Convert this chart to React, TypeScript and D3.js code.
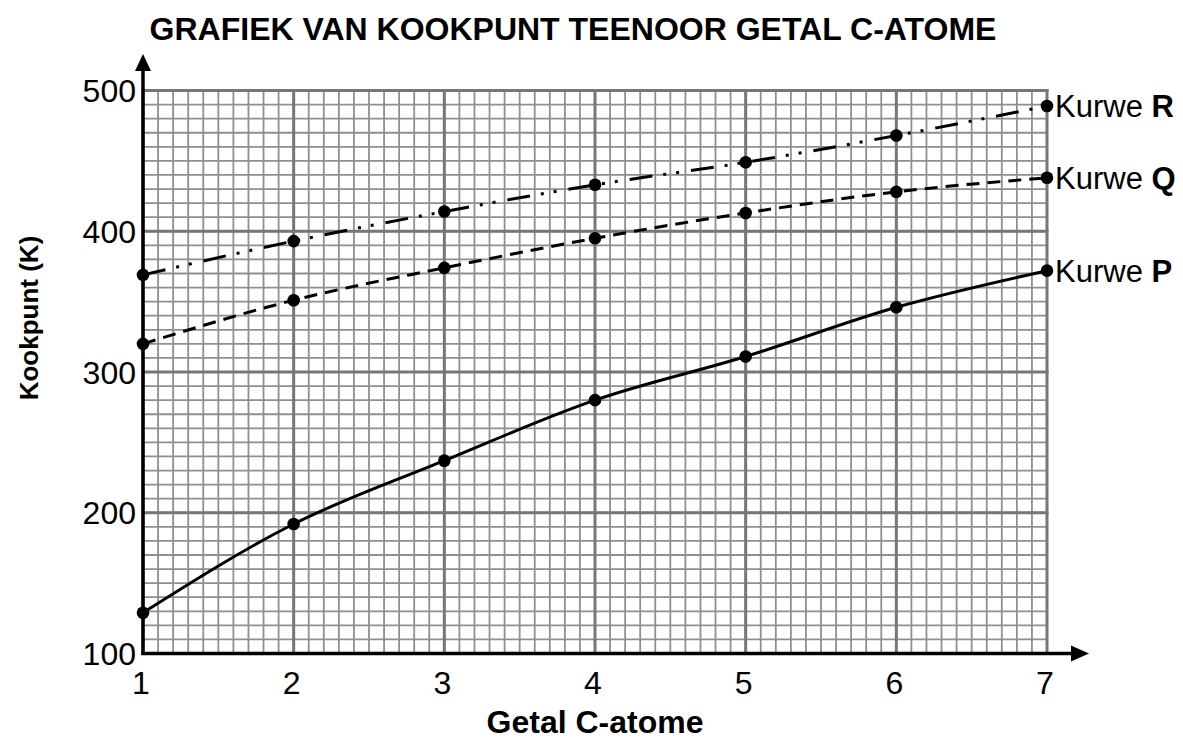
import React from "react";
import * as d3 from "d3";

const carbons = [1, 2, 3, 4, 5, 6, 7];
const curveP = [129, 192, 237, 280, 311, 346, 372];
const curveQ = [320, 351, 374, 395, 413, 428, 438];
const curveR = [369, 393, 414, 433, 449, 468, 489];
const xTicks = [1, 2, 3, 4, 5, 6, 7];
const yTicks = [100, 200, 300, 400, 500];
const curveNames = ["P", "Q", "R"];

const W = 1183;
const H = 749;
const M = { left: 143, right: 1047, top: 90.5, bottom: 653.5 };

export default function App() {
  const x = d3.scaleLinear().domain([1, 7]).range([M.left, M.right]);
  const y = d3.scaleLinear().domain([100, 500]).range([M.bottom, M.top]);

  const minorX = d3.range(10, 71).map((v) => v / 10);
  const minorY = d3.range(100, 501, 10);

  const line = d3
    .line<number>()
    .x((_, i) => x(carbons[i]))
    .y((d) => y(d))
    .curve(d3.curveMonotoneX);

  const series = [
    { name: curveNames[0], values: curveP, dash: "none" },
    { name: curveNames[1], values: curveQ, dash: "13 8" },
    { name: curveNames[2], values: curveR, dash: "23 11 3 10 3 12" },
  ];

  const font = "Liberation Sans, Arial, Helvetica, sans-serif";

  return (
    <svg width={W} height={H} style={{ position: "absolute", left: 0, top: 0 }} fontFamily={font}>
      <rect width={W} height={H} fill="#fff" />
      <text x={573} y={40} textAnchor="middle" fontWeight="bold" fontSize={32}>
        GRAFIEK VAN KOOKPUNT TEENOOR GETAL C-ATOME
      </text>
      {/* minor grid */}
      <g stroke="#8f8f8f" strokeWidth={1.8}>
        {minorX.map((v) => (
          <line key={"mx" + v} x1={x(v)} x2={x(v)} y1={y(100)} y2={y(500)} />
        ))}
        {minorY.map((v) => (
          <line key={"my" + v} x1={x(1)} x2={x(7)} y1={y(v)} y2={y(v)} />
        ))}
      </g>
      {/* major grid */}
      <g stroke="#777" strokeWidth={3}>
        {xTicks.map((v) => (
          <line key={"Mx" + v} x1={x(v)} x2={x(v)} y1={y(100)} y2={y(500) - 1.5} />
        ))}
        {yTicks.map((v) => (
          <line key={"My" + v} x1={x(1)} x2={x(7) + 1.5} y1={y(v)} y2={y(v)} />
        ))}
      </g>
      {/* axes */}
      <line x1={x(1)} x2={x(1)} y1={y(100) + 1.5} y2={62} stroke="#000" strokeWidth={3.5} />
      <path d={`M${x(1)},54 L${x(1) - 8},71 L${x(1) + 8},71 Z`} fill="#000" />
      <line x1={x(1) - 1.5} x2={1075} y1={y(100)} y2={y(100)} stroke="#000" strokeWidth={3.5} />
      <path d={`M1089,${y(100)} L1071,${y(100) - 8} L1071,${y(100) + 8} Z`} fill="#000" />
      {/* tick labels */}
      {yTicks.map((v) => (
        <text key={"yt" + v} x={136} y={y(v) + 11.5} textAnchor="end" fontSize={32}>
          {v}
        </text>
      ))}
      {xTicks.map((v) => (
        <text key={"xt" + v} x={x(v) - 2} y={y(100) + 40} textAnchor="middle" fontSize={32}>
          {v}
        </text>
      ))}
      <text
        transform={`translate(38,${318}) rotate(-90)`}
        textAnchor="middle"
        fontWeight="bold"
        fontSize={26}
      >
        Kookpunt (K)
      </text>
      <text x={595} y={733} textAnchor="middle" fontWeight="bold" fontSize={32}>
        Getal C-atome
      </text>
      {/* curves */}
      {series.map((s) => (
        <g key={s.name}>
          <path
            d={line(s.values) || ""}
            fill="none"
            stroke="#000"
            strokeWidth={3}
            strokeDasharray={s.dash}
          />
          {s.values.map((v, i) => (
            <circle key={i} cx={x(carbons[i])} cy={y(v)} r={6.3} fill="#000" />
          ))}
          <text x={x(7) + 8} y={y(s.values[s.values.length - 1]) + 11} fontSize={31}>
            Kurwe <tspan fontWeight="bold">{s.name}</tspan>
          </text>
        </g>
      ))}
    </svg>
  );
}
